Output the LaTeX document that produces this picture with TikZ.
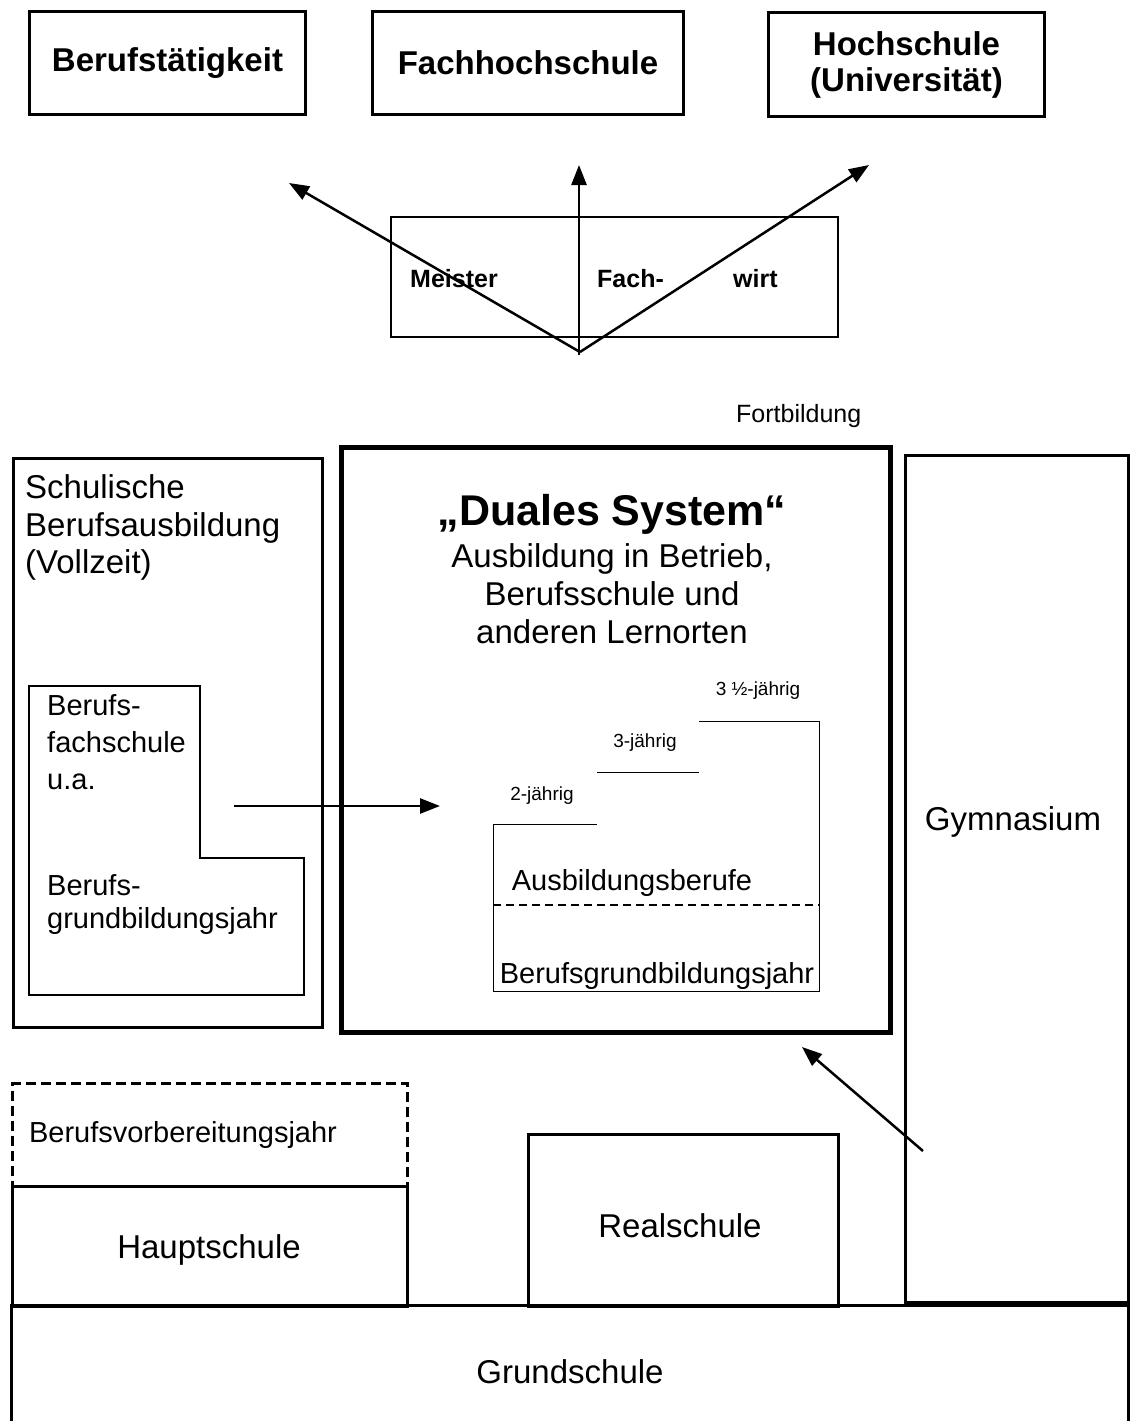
\documentclass[tikz,border=0pt]{standalone}
\usepackage{fontspec}
\setmainfont{Liberation Sans}
\usetikzlibrary{arrows.meta}
\newcommand\fsz[1]{\fontsize{#1}{#1}\selectfont}
\begin{document}
\begin{tikzpicture}[x=1pt,y=-1pt,
  box/.style={draw, line width=3pt, inner sep=0pt, anchor=north west},
  thinbox/.style={draw, line width=1.5pt, inner sep=0pt, anchor=north west},
  arr/.style={line width=2.5pt, -{Triangle[length=20pt,width=15pt]}},
  lbl/.style={inner sep=0pt, anchor=base},
  lblw/.style={inner sep=0pt, anchor=base west},
  topfont/.style={font=\fontsize{33}{36}\selectfont\bfseries}]
\useasboundingbox (0,0) rectangle (1132,1421);

% top boxes
\node[box, topfont, minimum width=276pt, minimum height=103pt] (beruf) at (28,10) {Berufstätigkeit};
\node[box, topfont, minimum width=311pt, minimum height=103pt] (fhs) at (371,10) {Fachhochschule};
\node[box, topfont, minimum width=276pt, minimum height=104pt, align=center] (hs) at (767,11) {Hochschule\\(Universität)};

% Meister box
\node[thinbox, minimum width=447pt, minimum height=120pt] (meisterbox) at (390,216) {};
\node[lblw, font=\fsz{25}\bfseries] (meister) at (410,287) {Meister};
\node[lblw, font=\fsz{25}\bfseries] (fach) at (597,287) {Fach-};
\node[lblw, font=\fsz{25}\bfseries] (wirt) at (733,287) {wirt};
\coordinate (fo) at (580,352);
\coordinate (tipL) at (289,183);
\coordinate (tipM) at (579,165);
\coordinate (tipR) at (869,165);
\draw[arr] (fo) -- (tipL);
\draw[arr] (579,355) -- (tipM);
\draw[arr] (fo) -- (tipR);
\node[lblw, font=\fsz{25}] (fortb) at (736,422) {Fortbildung};

% left column
\node[box, minimum width=309pt, minimum height=569pt] (schul) at (12,457) {};
\node[lblw, font=\fsz{33}] (s1) at (25,498) {Schulische};
\node[lblw, font=\fsz{33}] (s2) at (25,536) {Berufsausbildung};
\node[lblw, font=\fsz{33}] (s3) at (25,573) {(Vollzeit)};
\draw[line width=1.5pt] (29,686) -- (200,686) -- (200,858) -- (304,858) -- (304,995) -- (29,995) -- cycle;
\node[lblw, font=\fsz{29}] (b1) at (47,715) {Berufs-};
\node[lblw, font=\fsz{29}] (b2) at (47,752) {fachschule};
\node[lblw, font=\fsz{29}] (b3) at (47,789) {u.a.};
\node[lblw, font=\fsz{29}] (b4) at (47,895) {Berufs-};
\node[lblw, font=\fsz{29}] (b5) at (47,928) {grundbildungsjahr};
\coordinate (la) at (234,806);
\coordinate (lb) at (440,806);
\draw[arr] (la) -- (lb);

% Duales System
\node[draw, line width=5pt, inner sep=0pt, anchor=north west, minimum width=549pt, minimum height=585pt] (duales) at (338.5,444.5) {};
\node[lbl, font=\fsz{43}\bfseries] (d1) at (612,525) {„Duales System“};
\node[lbl, font=\fsz{33}] (d2) at (612,567) {Ausbildung in Betrieb,};
\node[lbl, font=\fsz{33}] (d3) at (612,605) {Berufsschule und};
\node[lbl, font=\fsz{33}] (d4) at (612,643) {anderen Lernorten};

% stairs
\draw[line width=1pt] (597,824) -- (493,824) -- (493,991) -- (819,991) -- (819,721) -- (699,721);
\draw[line width=1pt] (597,772) -- (699,772);
\draw[line width=2pt, dash pattern=on 8pt off 5pt] (493,905) -- (819,905);
\node[lbl, font=\fsz{19}] (j35) at (758,695) {3 ½-jährig};
\node[lbl, font=\fsz{19}] (j3) at (645,747) {3-jährig};
\node[lbl, font=\fsz{19}] (j2) at (542,800) {2-jährig};
\node[lbl, font=\fsz{29}] (ab) at (632,890) {Ausbildungsberufe};
\node[lbl, font=\fsz{29}] (bgj) at (657,983) {Berufsgrundbildungsjahr};

% Gymnasium
\node[box, minimum width=223pt, minimum height=847pt] (gym) at (904,454) {};
\node[lbl, font=\fsz{33}] (gymt) at (1013,830) {Gymnasium};
\coordinate (ga) at (923,1151);
\coordinate (gb) at (802,1047);
\draw[arr] (ga) -- (gb);

% lower schools
\node[box, minimum width=395pt, minimum height=120pt] (haupt) at (11,1185) {};
\node[draw, line width=3pt, dash pattern=on 10pt off 5pt, inner sep=0pt, anchor=north west, minimum width=395pt, minimum height=103pt] (bvj) at (11,1082) {};
\node[lbl, font=\fsz{29}] (bvjt) at (183,1142) {Berufsvorbereitungsjahr};
\node[lbl, font=\fsz{33}] (hauptt) at (209,1258) {Hauptschule};
\node[box, minimum width=310pt, minimum height=172pt] (real) at (527,1133) {};
\node[lbl, font=\fsz{33}] (realt) at (680,1237) {Realschule};
\draw[line width=3pt] (11,1425) -- (11,1305) -- (1128,1305) -- (1128,1425);
\node[lbl, font=\fsz{33}] (grund) at (570,1383) {Grundschule};
\end{tikzpicture}
\end{document}
